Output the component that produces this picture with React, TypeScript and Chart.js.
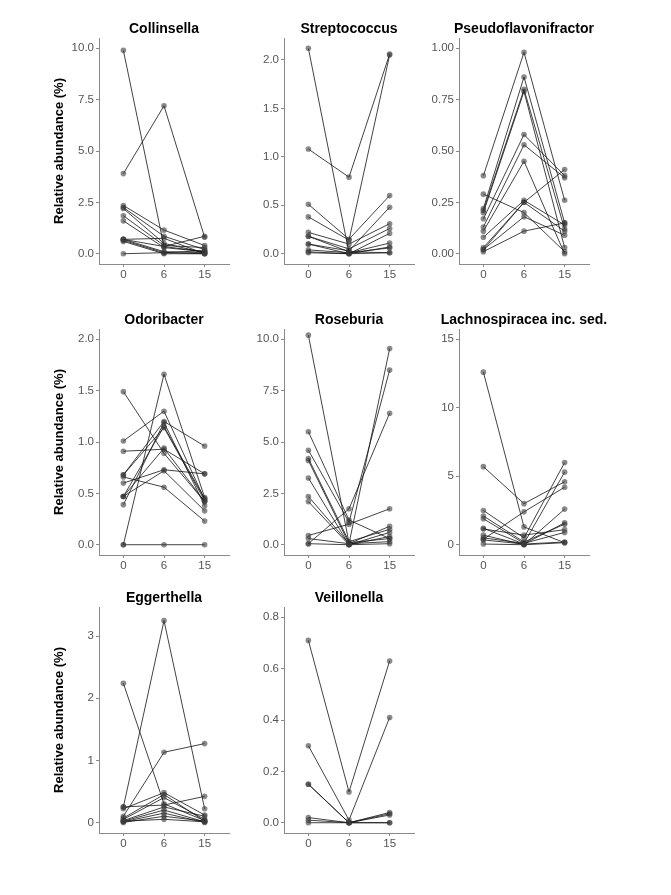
import React, { useEffect, useRef } from "react";
import { Chart, registerables } from "chart.js";
Chart.register(...registerables);

// ---- data ----
const timeLabels = ["0", "6", "15"];

const collinsella = [
  [9.9, 0.35, 0.1],
  [3.9, 7.2, 0.8],
  [2.35, 1.15, 0.4],
  [2.25, 0.85, 0.2],
  [2.2, 0.5, 0.05],
  [1.85, 0.4, 0.3],
  [1.6, 0.3, 0.1],
  [0.7, 0.75, 0.0],
  [0.7, 0.35, 0.85],
  [0.65, 0.05, 0.15],
  [0.6, 0.0, 0.0],
  [0.0, 0.05, 0.0],
  [0.7, 0.1, 0.05],
];

const streptococcus = [
  [2.12, 0.01, 0.06],
  [1.08, 0.79, 2.06],
  [0.51, 0.15, 0.6],
  [0.38, 0.14, 2.05],
  [0.22, 0.1, 0.31],
  [0.18, 0.05, 0.26],
  [0.1, 0.03, 0.48],
  [0.1, 0.0, 0.21],
  [0.04, 0.01, 0.11],
  [0.02, 0.0, 0.07],
  [0.01, 0.0, 0.01],
  [0.18, 0.02, 0.01],
];

const pseudoflavonifractor = [
  [0.38, 0.98, 0.26],
  [0.29, 0.2, 0.01],
  [0.22, 0.86, 0.15],
  [0.21, 0.8, 0.12],
  [0.2, 0.79, 0.03],
  [0.17, 0.58, 0.38],
  [0.13, 0.53, 0.37],
  [0.11, 0.45, 0.0],
  [0.08, 0.26, 0.14],
  [0.03, 0.25, 0.41],
  [0.02, 0.25, 0.11],
  [0.02, 0.18, 0.09],
  [0.01, 0.11, 0.15],
];

const odoribacter = [
  [1.49, 0.89, 0.42],
  [1.01, 1.3, 0.44],
  [0.91, 0.93, 0.69],
  [0.68, 1.2, 0.96],
  [0.66, 0.56, 0.23],
  [0.6, 0.73, 0.69],
  [0.47, 1.15, 0.45],
  [0.47, 0.72, 0.33],
  [0.39, 1.19, 0.38],
  [0.0, 1.66, 0.46],
  [0.0, 0.0, 0.0],
  [0.68, 1.14, 0.43],
  [0.47, 0.94, 0.42],
];

const roseburia = [
  [10.2, 0.1, 0.3],
  [5.5, 1.2, 0.3],
  [4.6, 1.1, 8.5],
  [4.2, 0.15, 0.75],
  [4.1, 0.05, 9.55],
  [3.25, 0.0, 0.6],
  [2.35, 0.05, 0.9],
  [2.1, 0.0, 0.4],
  [0.45, 1.0, 1.75],
  [0.3, 0.05, 0.15],
  [0.05, 1.75, 6.4],
  [0.05, 0.0, 0.05],
];

const lachnospiracea = [
  [12.6, 1.3, 0.15],
  [5.7, 3.0, 4.6],
  [2.5, 0.5, 6.0],
  [2.1, 0.2, 1.5],
  [1.9, 0.1, 0.9],
  [1.2, 0.05, 0.2],
  [1.15, 0.7, 1.1],
  [0.7, 0.0, 2.6],
  [0.5, 0.1, 5.3],
  [0.4, 2.4, 4.2],
  [0.35, 0.05, 1.6],
  [0.05, 0.0, 0.15],
];

const eggerthella = [
  [2.24, 0.3, 0.03],
  [0.25, 3.25, 0.22],
  [0.22, 0.48, 0.12],
  [0.1, 1.13, 1.27],
  [0.07, 0.45, 0.02],
  [0.25, 0.28, 0.42],
  [0.05, 0.4, 0.05],
  [0.03, 0.25, 0.1],
  [0.02, 0.2, 0.01],
  [0.01, 0.15, 0.0],
  [0.0, 0.1, 0.02],
  [0.02, 0.05, 0.01],
];

const veillonella = [
  [0.71, 0.12, 0.63],
  [0.3, 0.01, 0.41],
  [0.15, 0.0, 0.04],
  [0.15, 0.0, 0.035],
  [0.02, 0.0, 0.03],
  [0.01, 0.0, 0.0],
  [0.0, 0.0, 0.0],
];

const ticksCollinsella = [0, 2.5, 5, 7.5, 10];
const ticksStreptococcus = [0, 0.5, 1, 1.5, 2];
const ticksPseudo = [0, 0.25, 0.5, 0.75, 1];
const ticksOdoribacter = [0, 0.5, 1, 1.5, 2];
const ticksRoseburia = [0, 2.5, 5, 7.5, 10];
const ticksLachno = [0, 5, 10, 15];
const ticksEggerthella = [0, 1, 2, 3];
const ticksVeillonella = [0, 0.2, 0.4, 0.6, 0.8];

const panels = [
  { title: "Collinsella", series: collinsella, ticks: ticksCollinsella, dec: 1, min: -0.5, max: 10.5 },
  { title: "Streptococcus", series: streptococcus, ticks: ticksStreptococcus, dec: 1, min: -0.106, max: 2.226 },
  { title: "Pseudoflavonifractor", series: pseudoflavonifractor, ticks: ticksPseudo, dec: 2, min: -0.05, max: 1.05 },
  { title: "Odoribacter", series: odoribacter, ticks: ticksOdoribacter, dec: 1, min: -0.1, max: 2.1 },
  { title: "Roseburia", series: roseburia, ticks: ticksRoseburia, dec: 1, min: -0.5, max: 10.5 },
  { title: "Lachnospiracea inc. sed.", series: lachnospiracea, ticks: ticksLachno, dec: 0, min: -0.75, max: 15.75 },
  { title: "Eggerthella", series: eggerthella, ticks: ticksEggerthella, dec: 0, min: -0.17, max: 3.47 },
  { title: "Veillonella", series: veillonella, ticks: ticksVeillonella, dec: 1, min: -0.04, max: 0.84 },
];

// ---- layout ----
const PLOT_W = 130;
const PLOT_H = 226;
const TITLE_H = 27;
const XAXIS_H = 30;
const plotLefts = [99, 284, 459];
const plotTops = [38, 329, 607];
const FONT = "'Liberation Sans', Arial, Helvetica, sans-serif";
const AXIS_COLOR = "#8a8a8a";
const TICK_TEXT = "#555555";

function Panel({ idx }: { idx: number }) {
  const ref = useRef<HTMLCanvasElement | null>(null);
  const p = panels[idx];
  const col = idx % 3;
  const row = Math.floor(idx / 3);
  const yW = col === 0 ? 47 : 40;
  const left = plotLefts[col] - yW;
  const top = plotTops[row] - TITLE_H;
  const width = yW + PLOT_W + yW; // symmetric so the full-width title is centred over the plot
  const height = TITLE_H + PLOT_H + XAXIS_H;

  useEffect(() => {
    if (!ref.current) return;
    const chart = new Chart(ref.current, {
      type: "line",
      data: {
        datasets: p.series.map((s) => ({
          data: s.map((v, i) => ({ x: i, y: v })),
          borderColor: "rgba(20,20,20,0.8)",
          borderWidth: 1,
          pointRadius: 2.8,
          pointBackgroundColor: "rgba(60,60,60,0.6)",
          pointBorderWidth: 0,
          pointBorderColor: "rgba(0,0,0,0)",
          tension: 0,
          fill: false,
        })),
      },
      options: {
        animation: false,
        responsive: false,
        events: [],
        layout: { padding: 0 },
        plugins: {
          legend: { display: false },
          tooltip: { enabled: false },
          title: {
            display: true,
            text: p.title,
            fullSize: true,
            color: "#000",
            font: { family: FONT, size: 14, weight: "bold" },
            padding: { top: 10.2, bottom: 0 },
          },
        },
        scales: {
          x: {
            type: "linear",
            min: -0.6,
            max: 2.6,
            afterBuildTicks: (s: any) => {
              s.ticks = timeLabels.map((_, i) => ({ value: i }));
            },
            ticks: {
              callback: (v: any) => timeLabels[v as number],
              color: TICK_TEXT,
              font: { family: FONT, size: 11.5 },
              padding: 1,
              maxRotation: 0,
            },
            grid: { drawOnChartArea: false, drawTicks: true, tickLength: 3, color: AXIS_COLOR },
            border: { display: true, color: AXIS_COLOR, width: 1 },
            afterFit: (s: any) => {
              s.height = XAXIS_H;
            },
          },
          y: {
            type: "linear",
            position: "left",
            min: p.min,
            max: p.max,
            afterBuildTicks: (s: any) => {
              s.ticks = p.ticks.map((v) => ({ value: v }));
            },
            ticks: {
              callback: (v: any) => Number(v).toFixed(p.dec),
              color: TICK_TEXT,
              font: { family: FONT, size: 11.5 },
              padding: 2,
            },
            grid: { drawOnChartArea: false, drawTicks: true, tickLength: 3, color: AXIS_COLOR },
            border: { display: true, color: AXIS_COLOR, width: 1 },
            title: {
              display: col === 0,
              text: "Relative abundance (%)",
              color: "#000",
              font: { family: FONT, size: 13, weight: "bold" },
              padding: 0,
            },
            afterFit: (s: any) => {
              s.width = yW;
            },
          },
          // empty right-hand spacer so the plot sits in the middle of the canvas
          spacer: {
            type: "linear",
            position: "right",
            display: true,
            ticks: { display: false },
            grid: { display: false, drawTicks: false },
            border: { display: false },
            afterFit: (s: any) => {
              s.width = yW;
            },
          },
        },
      },
    } as any);
    return () => chart.destroy();
  }, []);

  return (
    <canvas
      ref={ref}
      width={width}
      height={height}
      style={{ position: "absolute", left, top, width, height }}
    />
  );
}

export default function App() {
  return (
    <div
      style={{
        position: "absolute",
        left: 0,
        top: 0,
        width: 671,
        height: 895,
        background: "#fff",
        overflow: "hidden",
      }}
    >
      {panels.map((_, i) => (
        <Panel key={i} idx={i} />
      ))}
    </div>
  );
}
